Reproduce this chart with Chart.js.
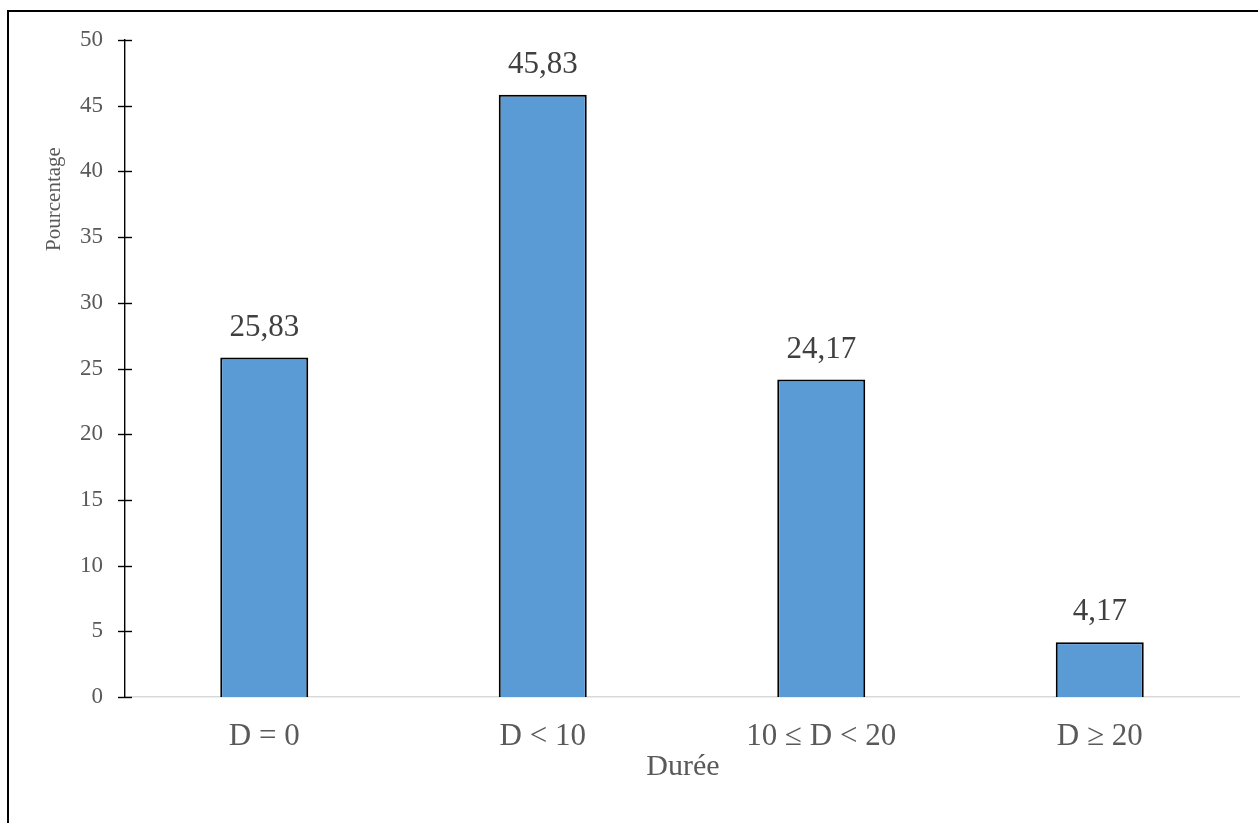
<!DOCTYPE html>
<html>
<head>
<meta charset="utf-8">
<script src="https://cdn.jsdelivr.net/npm/chart.js@4"></script>
<style>
  html, body { margin: 0; padding: 0; background: #ffffff; }
  #wrap { width: 1258px; height: 823px; position: relative; }
</style>
</head>
<body>
<div id="wrap"><canvas id="c" width="1258" height="823"></canvas></div>
<script>
// Durée classes and their share (%)
const categories = ['D = 0', 'D < 10', '10 \u2264 D < 20', 'D \u2265 20'];
const percentages = [25.83, 45.83, 24.17, 4.17];
const valueLabels = ['25,83', '45,83', '24,17', '4,17'];
const yTicks = [0, 5, 10, 15, 20, 25, 30, 35, 40, 45, 50];
const xTitle = 'Durée';
const yTitle = 'Pourcentage';

const SERIF = '"Liberation Serif", "Times New Roman", serif';

// Frame, crossing tick marks, value labels and axis titles
const decorations = {
  id: 'decorations',
  afterDraw(chart) {
    const ctx = chart.ctx;
    const area = chart.chartArea;
    const y = chart.scales.y;
    ctx.save();

    // outer frame
    ctx.strokeStyle = '#000000';
    ctx.lineWidth = 2;
    ctx.strokeRect(8, 11, 1400, 1000);

    // y tick marks crossing the axis line
    ctx.lineWidth = 1.4;
    ctx.strokeStyle = '#000000';
    yTicks.forEach(v => {
      const py = Math.round(y.getPixelForValue(v)) + 0.5;
      ctx.beginPath();
      ctx.moveTo(area.left - 7, py);
      ctx.lineTo(area.left + 7, py);
      ctx.stroke();
    });

    // value labels above bars
    const meta = chart.getDatasetMeta(0);
    ctx.fillStyle = '#404040';
    ctx.font = '31px ' + SERIF;
    ctx.textAlign = 'center';
    ctx.textBaseline = 'middle';
    meta.data.forEach((bar, i) => {
      ctx.fillText(valueLabels[i], bar.x, bar.y - 30);
    });

    // axis titles
    ctx.fillStyle = '#595959';
    ctx.font = '30px ' + SERIF;
    ctx.fillText(xTitle, (area.left + area.right) / 2 + 1, 767);

    ctx.font = '21px ' + SERIF;
    ctx.translate(54, 199);
    ctx.rotate(-Math.PI / 2);
    ctx.fillText(yTitle, 0, 0);

    ctx.restore();
  }
};

new Chart(document.getElementById('c'), {
  type: 'bar',
  data: {
    labels: categories,
    datasets: [{
      data: percentages,
      backgroundColor: '#5B9BD5',
      borderColor: '#000000',
      borderWidth: 2,
      borderSkipped: 'bottom',
      categoryPercentage: 1,
      barPercentage: 0.316
    }]
  },
  options: {
    responsive: false,
    animation: false,
    devicePixelRatio: 1,
    layout: { padding: { left: 0, right: 19, top: 40, bottom: 0 } },
    plugins: {
      legend: { display: false },
      tooltip: { enabled: false }
    },
    scales: {
      x: {
        grid: { display: false, drawTicks: false },
        border: { display: true, color: '#d9d9d9', width: 1.5 },
        ticks: {
          color: '#595959',
          font: { family: SERIF, size: 31 },
          padding: 21,
          maxRotation: 0
        },
        afterFit(scale) { scale.height = 126; }
      },
      y: {
        min: 0,
        max: 50,
        afterBuildTicks(scale) { scale.ticks = yTicks.map(v => ({ value: v })); },
        grid: { display: false, drawTicks: false },
        border: { display: true, color: '#000000', width: 1.4 },
        ticks: {
          color: '#595959',
          font: { family: SERIF, size: 23 },
          padding: 22
        },
        afterFit(scale) { scale.width = 125; }
      }
    }
  },
  plugins: [decorations]
});
</script>
</body>
</html>
